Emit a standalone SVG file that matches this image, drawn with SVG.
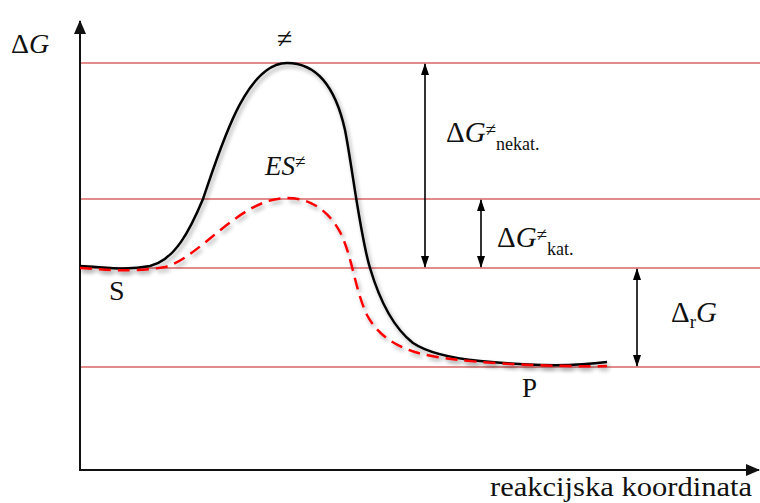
<svg xmlns="http://www.w3.org/2000/svg" width="760" height="503" viewBox="0 0 760 503">
<style>
.lvl{stroke:#d96464;stroke-width:1.6;fill:none}
.ax{stroke:#111;stroke-width:2;fill:none}
.dim{stroke:#000;stroke-width:1.6;fill:none;marker-start:url(#ah);marker-end:url(#ah)}
.it{font-style:italic}
</style>
<defs>
<marker id="ah" viewBox="0 0 12 10" refX="11" refY="5" markerWidth="12" markerHeight="10" markerUnits="userSpaceOnUse" orient="auto-start-reverse">
<path d="M0,1 L12,5 L0,9 Z" fill="#000"/>
</marker>
<marker id="axh" viewBox="0 0 14 12" refX="13" refY="6" markerWidth="14" markerHeight="12" markerUnits="userSpaceOnUse" orient="auto">
<path d="M0,0 L14,6 L0,12 Z" fill="#111"/>
</marker>
<filter id="sh" x="-10%" y="-10%" width="120%" height="120%">
<feGaussianBlur in="SourceAlpha" stdDeviation="2"/>
<feOffset dx="2" dy="3" result="b"/>
<feComponentTransfer><feFuncA type="linear" slope="0.35"/></feComponentTransfer>
<feMerge><feMergeNode/><feMergeNode in="SourceGraphic"/></feMerge>
</filter>
</defs>
<g id="levels">
<line class="lvl" x1="80" y1="63" x2="760" y2="63"/>
<line class="lvl" x1="80" y1="199" x2="760" y2="199"/>
<line class="lvl" x1="80" y1="268" x2="760" y2="268"/>
<line class="lvl" x1="80" y1="367" x2="760" y2="367"/>
</g>
<g id="axes">
<line class="ax" x1="80" y1="470" x2="80" y2="21" marker-end="url(#axh)"/>
<line class="ax" x1="79" y1="470" x2="759" y2="470" marker-end="url(#axh)"/>
</g>
<g id="curves">
<path id="uncatalysed" filter="url(#sh)" d="M80,266 C105,267 125,271 150,266 C175,260 190,230 203,199 C220,150 245,63 287,63 C315,63 335,85 345,130 C352,165 360,235 370,268 C378,295 390,325 413,343 C428,353 450,358 480,361 C520,365 570,367 607,362" stroke="#000" stroke-width="2.5" fill="none"/>
<path id="catalysed" filter="url(#sh)" d="M80,268 C100,269 130,273 165,267 C200,258 240,198 287,198 C310,198 328,210 340,232 C352,255 355,290 367,315 C380,340 405,352 437,357 C480,364 560,367 607,366" stroke="#ff0000" stroke-width="2.5" stroke-dasharray="12,7" fill="none"/>
</g>
<g id="connectors">
<line class="dim" x1="425" y1="64" x2="425" y2="267"/>
<line class="dim" x1="481" y1="200" x2="481" y2="267"/>
<line class="dim" x1="637" y1="269" x2="637" y2="366"/>
</g>
<g id="labels" font-family="'Liberation Serif', 'DejaVu Serif', 'Times New Roman', serif" fill="#111">
<text x="11" y="53" font-size="28">Δ<tspan class="it">G</tspan></text>
<text x="277" y="48" font-size="28">≠</text>
<text x="265" y="175" font-size="27" class="it">ES<tspan font-size="19" dy="-7" font-style="normal">≠</tspan></text>
<text x="109" y="300" font-size="28">S</text>
<text x="522" y="397" font-size="27">P</text>
<text x="446" y="142" font-size="29">Δ<tspan class="it">G</tspan><tspan font-size="19" dy="-6">≠</tspan><tspan font-size="18" dy="14">nekat.</tspan></text>
<text x="497" y="247" font-size="29">Δ<tspan class="it">G</tspan><tspan font-size="19" dy="-6">≠</tspan><tspan font-size="18" dy="14">kat.</tspan></text>
<text x="671" y="322" font-size="29">Δ<tspan font-size="19" dy="6">r</tspan><tspan class="it" dy="-6">G</tspan></text>
<text x="490" y="496" font-size="28" textLength="262" lengthAdjust="spacingAndGlyphs">reakcijska koordinata</text>
</g>
</svg>
